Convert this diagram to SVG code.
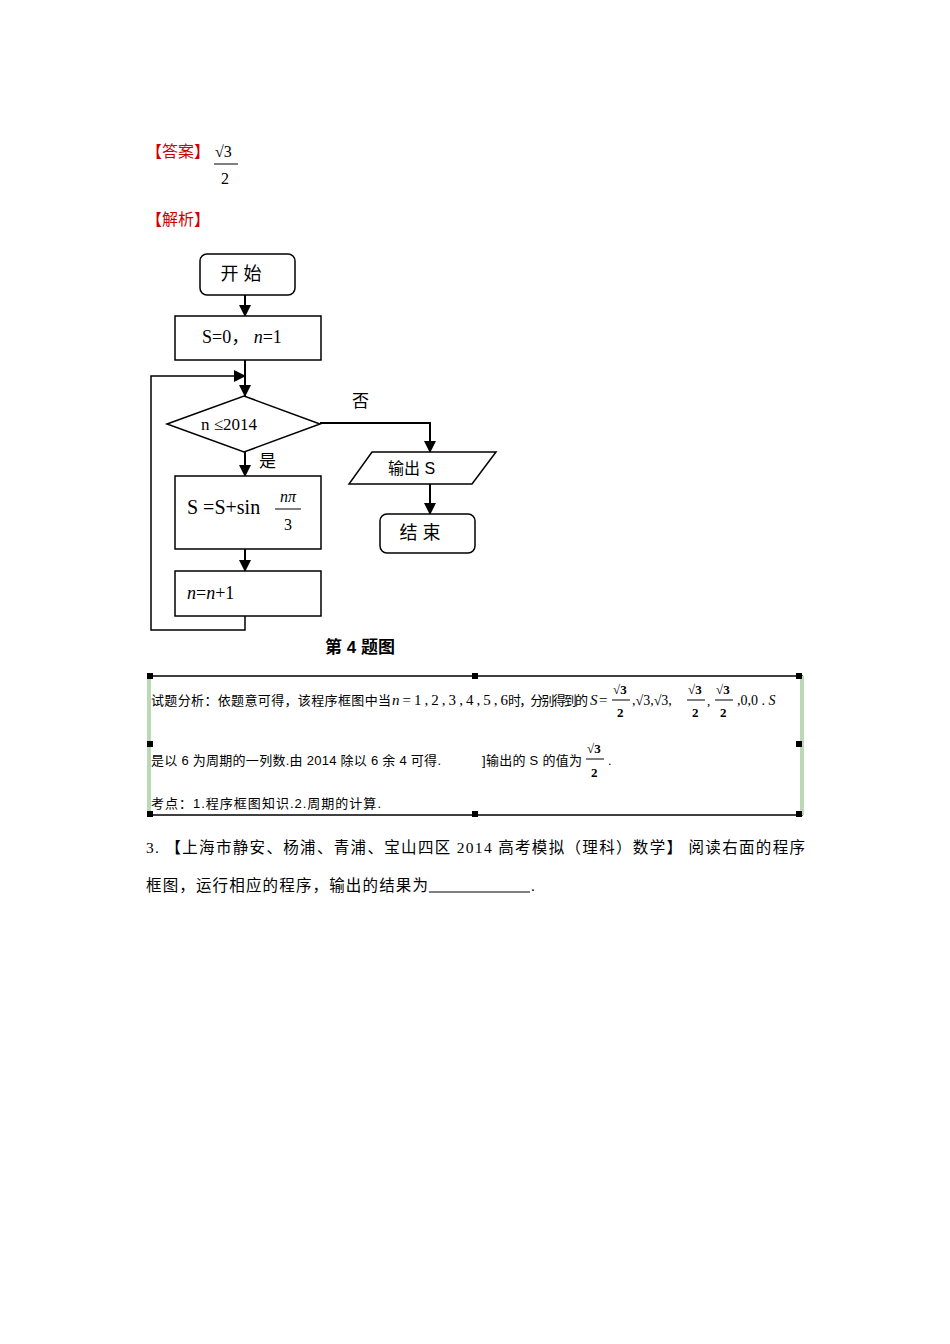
<svg xmlns="http://www.w3.org/2000/svg" width="950" height="1344" viewBox="0 0 950 1344">
<style>
.c{font-family:"Liberation Serif","Noto Sans CJK SC",serif;fill:#000}
.s{font-family:"Liberation Sans","Noto Sans CJK SC",sans-serif;fill:#000}
.r{fill:#d00000}
.b{fill:#fff;stroke:#000;stroke-width:1.5}
.l{fill:none;stroke:#000;stroke-width:2}
.h{fill:#000}
</style>
<defs><marker id="ab" markerWidth="12" markerHeight="12" refX="11" refY="6" orient="auto" markerUnits="userSpaceOnUse"><path d="M0,0L12,6L0,12Z" fill="#000"/></marker></defs>
<rect width="950" height="1344" fill="#fff"/>
<text x="146" y="157" class="c r" font-size="16">【答案】</text>
<text x="215" y="157" class="c" font-size="16">√3</text>
<line x1="214" y1="164" x2="238" y2="164" stroke="#000"/>
<text x="221" y="184" class="c" font-size="16">2</text>
<text x="146" y="225" class="c r" font-size="16">【解析】</text>
<g id="connectors">
<line x1="245" y1="295" x2="245" y2="316" class="l" marker-end="url(#ab)"/>
<line x1="245" y1="360" x2="245" y2="396" class="l" marker-end="url(#ab)"/>
<polyline points="245,616 245,630 151,630 151,376 245,376" fill="none" stroke="#000" stroke-width="1.5" marker-end="url(#ab)"/>
<line x1="245" y1="452" x2="245" y2="476" class="l" marker-end="url(#ab)"/>
<line x1="245" y1="549" x2="245" y2="571" class="l" marker-end="url(#ab)"/>
<polyline points="320,423 430,423 430,452" class="l" marker-end="url(#ab)"/>
<line x1="430" y1="484" x2="430" y2="514" class="l" marker-end="url(#ab)"/>
<text x="352" y="407" class="s" font-size="17">否</text>
<text x="259" y="467" class="s" font-size="17">是</text>
</g>
<g id="start"><rect x="200" y="254" width="95" height="41" rx="7" class="b" stroke-width="2"/><text x="241" y="280" class="s" font-size="18" text-anchor="middle">开 始</text></g>
<g id="init"><rect x="175" y="316" width="146" height="44" class="b"/><text x="202" y="343" class="c" font-size="18">S=0， <tspan font-style="italic">n</tspan>=1</text></g>
<g id="cond"><polygon points="167,424 244,396 320,424 244,452" class="b"/><text x="201" y="430" class="c" font-size="17">n ≤2014</text></g>
<g id="update"><rect x="175" y="476" width="146" height="73" class="b"/><text x="187" y="514" class="c" font-size="20">S =S+sin</text><text x="288" y="502" class="c" font-size="16" font-style="italic" text-anchor="middle">nπ</text><line x1="275" y1="509" x2="301" y2="509" stroke="#000"/><text x="288" y="530" class="c" font-size="16" text-anchor="middle">3</text></g>
<g id="inc"><rect x="175" y="571" width="146" height="45" class="b"/><text x="187" y="599" class="c" font-size="18"><tspan font-style="italic">n</tspan>=<tspan font-style="italic">n</tspan>+1</text></g>
<g id="output"><polygon points="372,452 496,452 472,484 349,484" class="b"/><text x="388" y="474" class="s" font-size="16">输出 S</text></g>
<g id="end"><rect x="380" y="514" width="95" height="39" rx="7" class="b" stroke-width="2"/><text x="420" y="539" class="s" font-size="18" text-anchor="middle">结 束</text></g>
<text x="360" y="653" class="s" font-size="17" font-weight="bold" text-anchor="middle">第 4 题图</text>
<g id="analysis">
<rect x="149" y="676" width="653" height="139" fill="#fff" stroke="#000" stroke-width="1.5"/>
<line x1="149" y1="676" x2="149" y2="815" stroke="#bcd9b5" stroke-width="4"/>
<line x1="802" y1="676" x2="802" y2="815" stroke="#bcd9b5" stroke-width="4"/>
<g class="h"><rect x="147" y="673" width="6" height="6"/><rect x="472" y="673" width="6" height="6"/><rect x="796" y="673" width="6" height="6"/><rect x="147" y="741" width="6" height="6"/><rect x="796" y="741" width="6" height="6"/><rect x="147" y="811" width="6" height="6"/><rect x="472" y="811" width="6" height="6"/><rect x="796" y="811" width="6" height="6"/></g>
<text x="151" y="705" class="s" font-size="13" textLength="240">试题分析：依题意可得，该程序框图中当</text>
<text x="392" y="705" class="c" font-size="15" textLength="116"><tspan font-style="italic">n</tspan>=1,2,3,4,5,6</text>
<text x="508" y="705" class="s" font-size="13" textLength="80">时，分别得到的</text>
<text x="590" y="705" class="c" font-size="15" font-style="italic">S</text><text x="599" y="705" class="c" font-size="15">=</text>
<g class="c" font-size="13" font-weight="bold">
<text x="613" y="694">√3</text><line x1="612" y1="700" x2="630" y2="700" stroke="#000"/><text x="617" y="717">2</text>
<text x="632" y="705" font-weight="normal" font-size="14">,√3,√3,</text>
<text x="688" y="694">√3</text><line x1="687" y1="700" x2="705" y2="700" stroke="#000"/><text x="692" y="717">2</text>
<text x="707" y="705" font-weight="normal">,</text>
<text x="716" y="694">√3</text><line x1="715" y1="700" x2="733" y2="700" stroke="#000"/><text x="720" y="717">2</text>
<text x="737" y="705" font-weight="normal" font-size="14">,0,0 . <tspan font-style="italic">S</tspan></text>
<text x="587" y="753">√3</text><line x1="586" y1="759" x2="604" y2="759" stroke="#000"/><text x="591" y="777">2</text>
</g>
<text x="151" y="765" class="s" font-size="13" textLength="290">是以 6 为周期的一列数.由 2014 除以 6 余 4 可得.</text>
<text x="482" y="765" class="s" font-size="13" textLength="100">]输出的 S 的值为</text>
<text x="608" y="765" class="s" font-size="12.5">.</text>
<text x="151" y="808" class="s" font-size="13" textLength="230">考点：1.程序框图知识.2.周期的计算.</text>
</g>
<text x="146" y="853" class="c" font-size="15.5" textLength="659">3.   【上海市静安、杨浦、青浦、宝山四区 2014 高考模拟（理科）数学】 阅读右面的程序</text>
<text x="146" y="891" class="c" font-size="15.5" textLength="282">框图，运行相应的程序，输出的结果为</text>
<line x1="429" y1="892" x2="530" y2="892" stroke="#000"/>
<text x="531" y="891" class="c" font-size="15.5">.</text>
</svg>
